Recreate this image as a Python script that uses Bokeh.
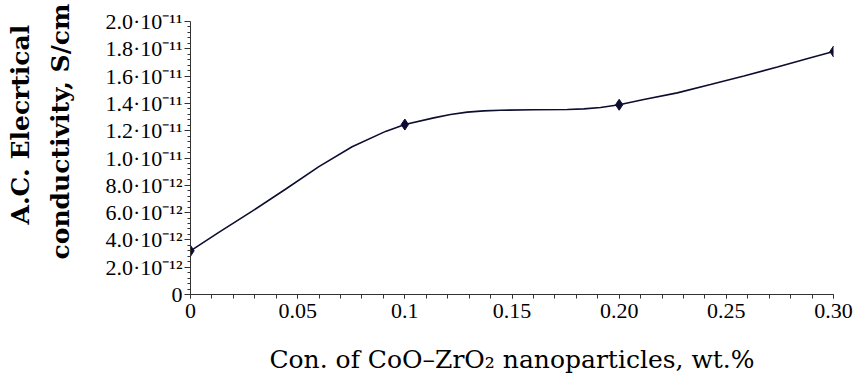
from bokeh.plotting import figure
from bokeh.models import Range1d, FixedTicker, Title
from bokeh.embed import file_html
from bokeh.resources import INLINE

# Measured points
conc = [0.0, 0.1, 0.2, 0.3]
conductivity = [3.2e-12, 1.245e-11, 1.39e-11, 1.78e-11]

# Smooth curve
curve_x = [0.0, 0.0132, 0.0288, 0.0443, 0.0599, 0.0754, 0.091, 0.1, 0.1135, 0.1213,
           0.1291, 0.1369, 0.1447, 0.1602, 0.1758, 0.1835, 0.1913, 0.2, 0.2115,
           0.2271, 0.2426, 0.2582, 0.2738, 0.2893, 0.3]
curve_y = [3.2e-12, 4.55e-12, 6.11e-12, 7.71e-12, 9.37e-12, 1.082e-11, 1.195e-11,
           1.245e-11, 1.294e-11, 1.319e-11, 1.336e-11, 1.345e-11, 1.350e-11,
           1.353e-11, 1.355e-11, 1.360e-11, 1.370e-11, 1.39e-11, 1.428e-11,
           1.477e-11, 1.538e-11, 1.601e-11, 1.666e-11, 1.735e-11, 1.78e-11]

x_ticks = [0.0, 0.05, 0.1, 0.15, 0.2, 0.25, 0.3]
x_tick_labels = ["0", "0.05", "0.1", "0.15", "0.20", "0.25", "0.30"]
y_ticks = [0.0, 2e-12, 4e-12, 6e-12, 8e-12, 1e-11, 1.2e-11, 1.4e-11, 1.6e-11, 1.8e-11, 2e-11]
y_tick_labels = ["0", "2.0·10⁻¹²", "4.0·10⁻¹²", "6.0·10⁻¹²", "8.0·10⁻¹²", "1.0·10⁻¹¹",
                 "1.2·10⁻¹¹", "1.4·10⁻¹¹", "1.6·10⁻¹¹", "1.8·10⁻¹¹", "2.0·10⁻¹¹"]
y_title_lines = ["A.C. Elecrtical", "conductivity, S/cm"]
x_title = "Con. of CoO–ZrO₂ nanoparticles, wt.%"

x_minor = [i * 0.01 for i in range(31)]
y_minor = [i * 4e-13 for i in range(51)]

p = figure(width=857, height=376, output_backend="svg", toolbar_location=None,
           x_range=Range1d(0, 0.3), y_range=Range1d(0, 2e-11),
           min_border_left=190, min_border_right=24, min_border_top=21,
           min_border_bottom=81)
p.outline_line_color = None
p.grid.visible = False
p.background_fill_color = "white"
p.border_fill_color = "white"

ink = "#0d0d30"
p.line(curve_x, curve_y, line_color=ink, line_width=1.6)
p.scatter(conc, conductivity, marker="diamond", size=11, fill_color=ink, line_color=ink)

xa = p.xaxis[0]
xa.ticker = FixedTicker(ticks=x_ticks, minor_ticks=x_minor)
xa.major_label_overrides = {t: l for t, l in zip(x_ticks, x_tick_labels)}
xa.axis_line_color = "#333333"
xa.major_tick_line_color = "#333333"
xa.minor_tick_line_color = "#333333"
xa.major_tick_in = 0
xa.major_tick_out = 4
xa.minor_tick_in = 0
xa.minor_tick_out = 4
xa.major_label_standoff = 5
xa.major_label_text_font = "Liberation Serif"
xa.major_label_text_font_size = "22px"
xa.major_label_text_color = "black"
xa.axis_label = x_title
xa.axis_label_text_font = "DejaVu Serif"
xa.axis_label_text_font_size = "25px"
xa.axis_label_text_font_style = "normal"
xa.axis_label_text_color = "black"
xa.axis_label_standoff = 24

ya = p.yaxis[0]
ya.ticker = FixedTicker(ticks=y_ticks, minor_ticks=y_minor)
ya.major_label_overrides = {t: l for t, l in zip(y_ticks, y_tick_labels)}
ya.axis_line_color = "#333333"
ya.major_tick_line_color = "#333333"
ya.minor_tick_line_color = "#333333"
ya.major_tick_in = 0
ya.major_tick_out = 6
ya.minor_tick_in = 0
ya.minor_tick_out = 3
ya.major_label_standoff = 2
ya.major_label_text_font = "Liberation Serif"
ya.major_label_text_font_size = "22px"
ya.major_label_text_color = "black"
# blank axis label only used as a gap before the y title
ya.axis_label = " "
ya.axis_label_text_font_size = "4px"
ya.axis_label_standoff = 11

# y title as two vertical titles on the left (inner line first)
p.add_layout(Title(text=y_title_lines[1], align="left", offset=35, standoff=18,
                   text_font="DejaVu Serif", text_font_size="25px",
                   text_font_style="bold", text_color="black"), "left")
p.add_layout(Title(text=y_title_lines[0], align="left", offset=70, standoff=0,
                   text_font="DejaVu Serif", text_font_size="25px",
                   text_font_style="bold", text_color="black"), "left")

open("out.html", "w").write(file_html(p, INLINE))
